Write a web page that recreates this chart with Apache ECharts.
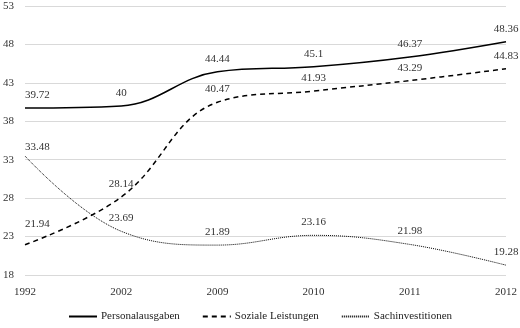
<!DOCTYPE html>
<html>
<head>
<meta charset="utf-8">
<script src="https://cdn.jsdelivr.net/npm/echarts@6/dist/echarts.min.js"></script>
<style>
  html, body { margin: 0; padding: 0; background: #fff; }
  #chart { width: 520px; height: 328px; }
</style>
</head>
<body>
<div id="chart"></div>
<script>
const years = ['1992', '2002', '2009', '2010', '2011', '2012'];
const personalausgaben = [39.72, 40, 44.44, 45.1, 46.37, 48.36];
const sozialeLeistungen = [21.94, 28.14, 40.47, 41.93, 43.29, 44.83];
const sachinvestitionen = [33.48, 23.69, 21.89, 23.16, 21.98, 19.28];

const font = 'Liberation Serif, Times New Roman, serif';
const fontSize = 11;

// first label is pushed right of the axis, its gap above the line varies
function makeSeries(name, values, type, width, firstDistance) {
    const data = values.map((v, i) => {
        if (i === 0) {
            return { value: v, label: { align: 'left', offset: [0, 0], distance: firstDistance } };
        }
        return v;
    });
    return {
        name: name,
        type: 'line',
        data: data,
        smooth: 0.4,
        symbol: 'circle',
        symbolSize: 1,
        showSymbol: true,
        lineStyle: { color: '#000', width: width, type: type },
        itemStyle: { color: 'rgba(0,0,0,0)' },
        label: {
            show: true,
            position: 'top',
            distance: 7,
            color: '#333',
            fontFamily: font,
            fontSize: fontSize
        }
    };
}

const chart = echarts.init(document.getElementById('chart'));
chart.setOption({
    animation: false,
    grid: { left: 21, right: 12, top: 6, bottom: 53 },
    legend: {
        bottom: 1,
        itemWidth: 28,
        itemHeight: 10,
        itemGap: 22,
        itemStyle: { color: 'rgba(0,0,0,0)' },
        textStyle: { fontFamily: font, fontSize: 11, color: '#222', padding: [0, 0, 0, -1] }
    },
    xAxis: {
        type: 'category',
        data: years,
        boundaryGap: false,
        axisLine: { show: false },
        axisTick: { show: false },
        axisLabel: { fontFamily: font, fontSize: fontSize, color: '#333', margin: 12 }
    },
    yAxis: {
        type: 'value',
        min: 18,
        max: 53,
        interval: 5,
        axisLine: { show: false },
        axisTick: { show: false },
        splitLine: { lineStyle: { color: '#d9d9d9', width: 1 } },
        axisLabel: { fontFamily: font, fontSize: fontSize, color: '#333', margin: 11 }
    },
    series: [
        makeSeries('Personalausgaben', personalausgaben, 'solid', 1.5, 7),
        makeSeries('Soziale Leistungen', sozialeLeistungen, [5, 4], 1.5, 15),
        makeSeries('Sachinvestitionen', sachinvestitionen, [1, 1], 1, 3)
    ]
});
</script>
</body>
</html>
